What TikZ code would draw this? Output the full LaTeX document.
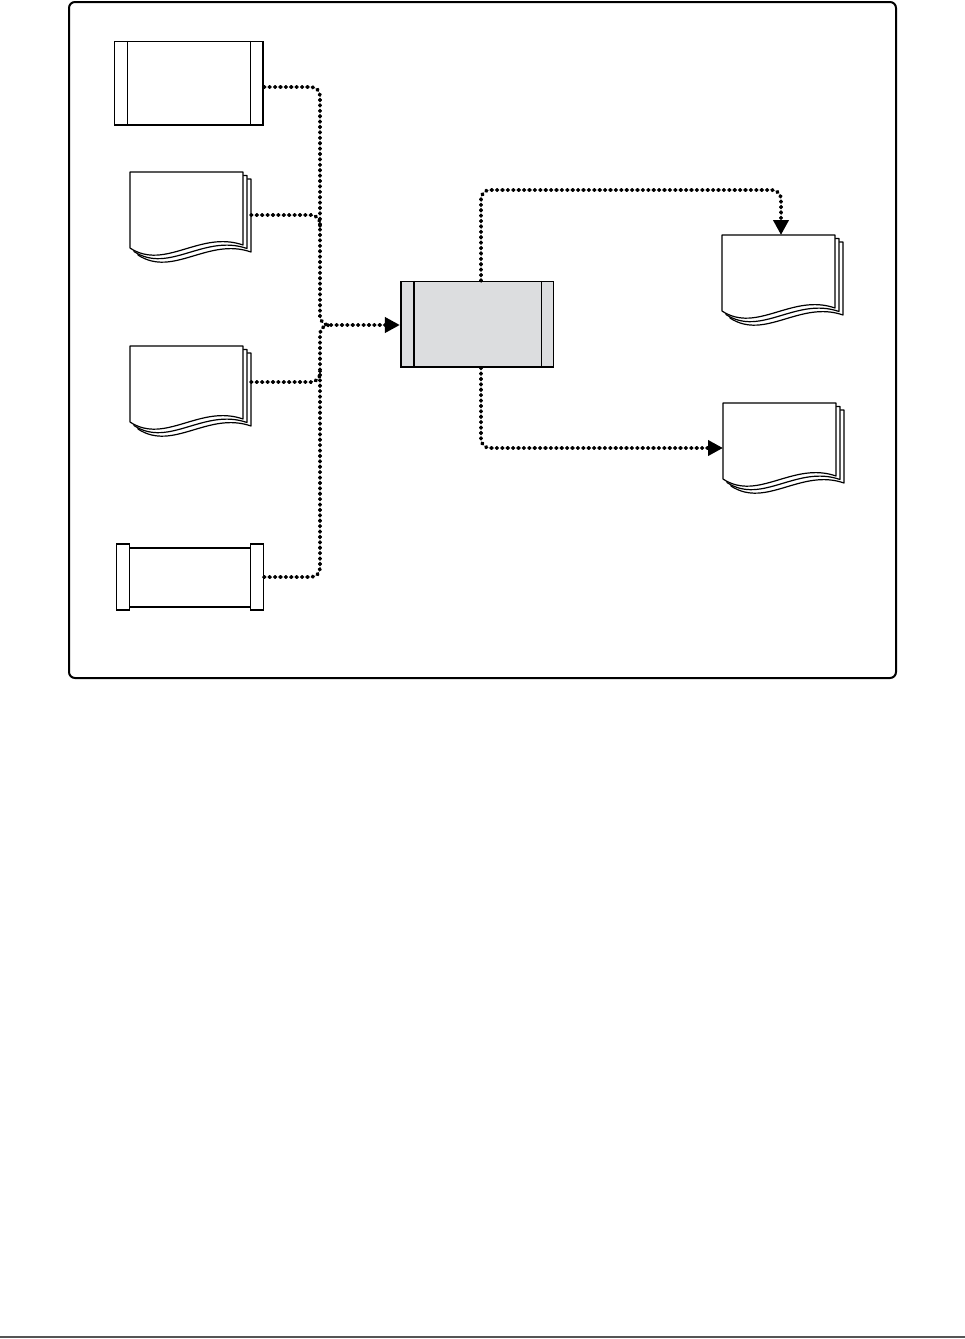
\documentclass[tikz,border=0pt]{standalone}
\usetikzlibrary{arrows.meta}
\definecolor{boxgray}{HTML}{DCDDDF}
\definecolor{rulegray}{HTML}{555555}
\tikzset{
  procbox/.style={draw, line width=1.6pt, inner sep=0pt, fill=white},
  docline/.style={draw, line width=1.2pt, fill=white, line join=round},
  dotline/.style={line width=3.8pt, line cap=round, dash pattern=on 0.8pt off 4.6pt, rounded corners=9pt},
  arr/.style={-{Triangle[length=15pt,width=15pt]}},
}
\newcommand\onedoc[2]{%
  \path[docline] (#1,#2+76) -- (#1,#2) -- (#1+113,#2) -- (#1+113,#2+73)
    .. controls (#1+70,#2+58) and (#1+35,#2+99) .. (#1,#2+76) -- cycle;}
\newcommand\docstack[3]{%
  \onedoc{#1+8}{#2+7}\onedoc{#1+4}{#2+3.5}\onedoc{#1}{#2}%
  \coordinate (#3) at (#1,#2);}
\begin{document}
\begin{tikzpicture}[x=1pt,y=-1pt]
\useasboundingbox (0,0) rectangle (965,1339);
% frame
\draw[line width=2pt, rounded corners=6pt] (69,2) rectangle (896,678);
\draw[rulegray, line width=2pt] (0,1337) -- (965,1337);

% box 1 (predefined process)
\node[procbox, minimum width=148.5pt, minimum height=83.5pt] (p1) at (188.8,83.3) {};
\draw[line width=1.2pt] ([xshift=13.5pt]p1.north west) -- ([xshift=13.5pt]p1.south west);
\draw[line width=1.2pt] ([xshift=-13.5pt]p1.north east) -- ([xshift=-13.5pt]p1.south east);

% documents
\docstack{130}{172}{d2}
\docstack{130}{346}{d3}
\docstack{722}{235}{d5}
\docstack{723}{403}{d6}
\coordinate (d2out) at (251,215);
\coordinate (d3out) at (251,382);
\coordinate (d5in) at (781,235);
\coordinate (d6in) at (723,448);

% box 4 (with caps)
\node[draw, line width=1.2pt, fill=white, minimum width=12.8pt, minimum height=66pt, inner sep=0pt] (c4l) at (122.9,577) {};
\node[draw, line width=1.2pt, fill=white, minimum width=12.6pt, minimum height=66pt, inner sep=0pt] (c4r) at (257,577) {};
\node[inner sep=0pt, minimum width=121.4pt, minimum height=58.7pt] (p4) at (190,577.3) {};
\draw[line width=2pt] (c4l.east |- p4.north) -- (c4r.west |- p4.north);
\draw[line width=2pt] (c4l.east |- p4.south) -- (c4r.west |- p4.south);

% central process
\node[procbox, fill=boxgray, minimum width=152.6pt, minimum height=85.3pt] (pc) at (477,324.3) {};
\draw[line width=1.6pt] ([xshift=14.3pt]pc.north west) -- ([xshift=14.3pt]pc.south west);
\draw[line width=1.2pt] ([xshift=-12.6pt]pc.north east) -- ([xshift=-12.6pt]pc.south east);

% connectors in
\draw[dotline, arr] (p1.east |- 0,87) -| (320,325) -- (pc.west |- 0,325);
\draw[dotline] (d2out) -| (320,226);
\draw[dotline] (d3out) -| (320,371);
\draw[dotline] (c4r.east) -| (320,325) -- (331,325);

% connectors out
\draw[dotline, arr] (pc.north -| 481,0) |- (781,190) -- (d5in);
\draw[dotline, arr] (pc.south -| 481,0) |- (d6in);
\end{tikzpicture}
\end{document}
